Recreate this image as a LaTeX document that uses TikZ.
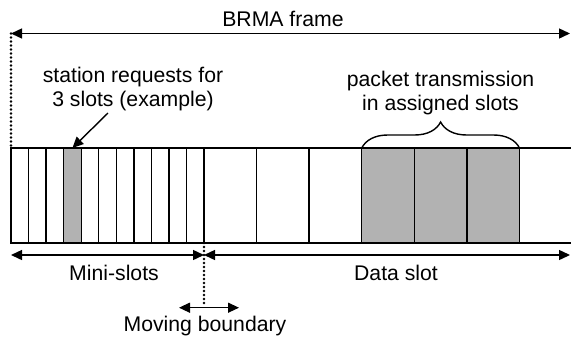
\documentclass[tikz,border=0pt]{standalone}
\usepackage{fontspec}
\setmainfont{Liberation Sans}
\usetikzlibrary{arrows.meta,decorations.pathreplacing}
\begin{document}
\begin{tikzpicture}[x=0.5pt,y=-0.5pt,
  lbl/.style={font=\fontsize{10.6}{12}\selectfont, inner sep=0pt, align=center},
  slot/.style={draw, line width=0.7pt, minimum height=47.5pt, inner sep=0pt, outer sep=0pt, anchor=north west},
  mini/.style={slot, minimum width=8.775pt},
  datas/.style={slot, minimum width=26.29pt},
  greyfill/.style={fill=black!30},
  dim/.style={line width=0.7pt, {Triangle[length=5.5pt,width=5pt]}-{Triangle[length=5.5pt,width=5pt]}},
  dots/.style={line width=1.4pt, line cap=round, dash pattern=on 0pt off 2pt}
]
\useasboundingbox (0,0) rectangle (571,343);
% mini slots
\foreach \i in {1,...,11}{
  \pgfmathsetmacro{\xx}{11+(\i-1)*17.55}
  \ifnum\i=4
    \node[mini,greyfill] (m\i) at (\xx,148) {};
  \else
    \node[mini] (m\i) at (\xx,148) {};
  \fi
}
% data slots
\foreach \j in {1,...,6}{
  \pgfmathsetmacro{\xx}{204+(\j-1)*52.58}
  \ifnum\j>3
    \node[datas,greyfill] (d\j) at (\xx,148) {};
  \else
    \node[datas] (d\j) at (\xx,148) {};
  \fi
}
\coordinate (rt) at (571,148);
\coordinate (rb) at (571,243);
\draw[line width=0.7pt] (d6.north east) -- (rt);
\draw[line width=0.7pt] (d6.south east) -- (rb);
% BRMA frame
\coordinate (fl) at (11,33.5);
\coordinate (fr) at (570,33.5);
\draw[dim] (fl) -- (fr);
\node[lbl,anchor=base] (brma) at (283,26) {BRMA frame};
\draw[dots] (fl) -- (m1.north west);
% station request
\node[lbl,anchor=base] (req) at (133,106) {station requests for\\3 slots (example)};
\coordinate (reqtail) at (108,113);
\draw[line width=0.7pt,-{Triangle[length=5.5pt,width=5pt]}] (reqtail) -- (m4.north);
% packet transmission
\node[lbl,anchor=base] (pkt) at (440.5,110) {packet transmission\\in assigned slots};
\draw[line width=0.7pt, decorate, decoration={brace, amplitude=13pt}] (d4.north west) -- (d6.north east);
% bottom dimensions
\coordinate (ml) at (11,255);
\coordinate (mb) at (204,255);
\coordinate (dr) at (570,255);
\draw[dim] (ml) -- (mb);
\draw[dim] (mb) -- (dr);
\node[lbl,anchor=base] (mini) at (114,280) {Mini-slots};
\node[lbl,anchor=base] (data) at (396,280) {Data slot};
% moving boundary
\coordinate (bd) at (204,305);
\draw[dots] (d1.south west) -- (bd);
\coordinate (bl) at (179,307.7);
\coordinate (br) at (239,307.7);
\draw[dim] (bl) -- (br);
\node[lbl,anchor=base] (mov) at (205,331) {Moving boundary};
\end{tikzpicture}
\end{document}
